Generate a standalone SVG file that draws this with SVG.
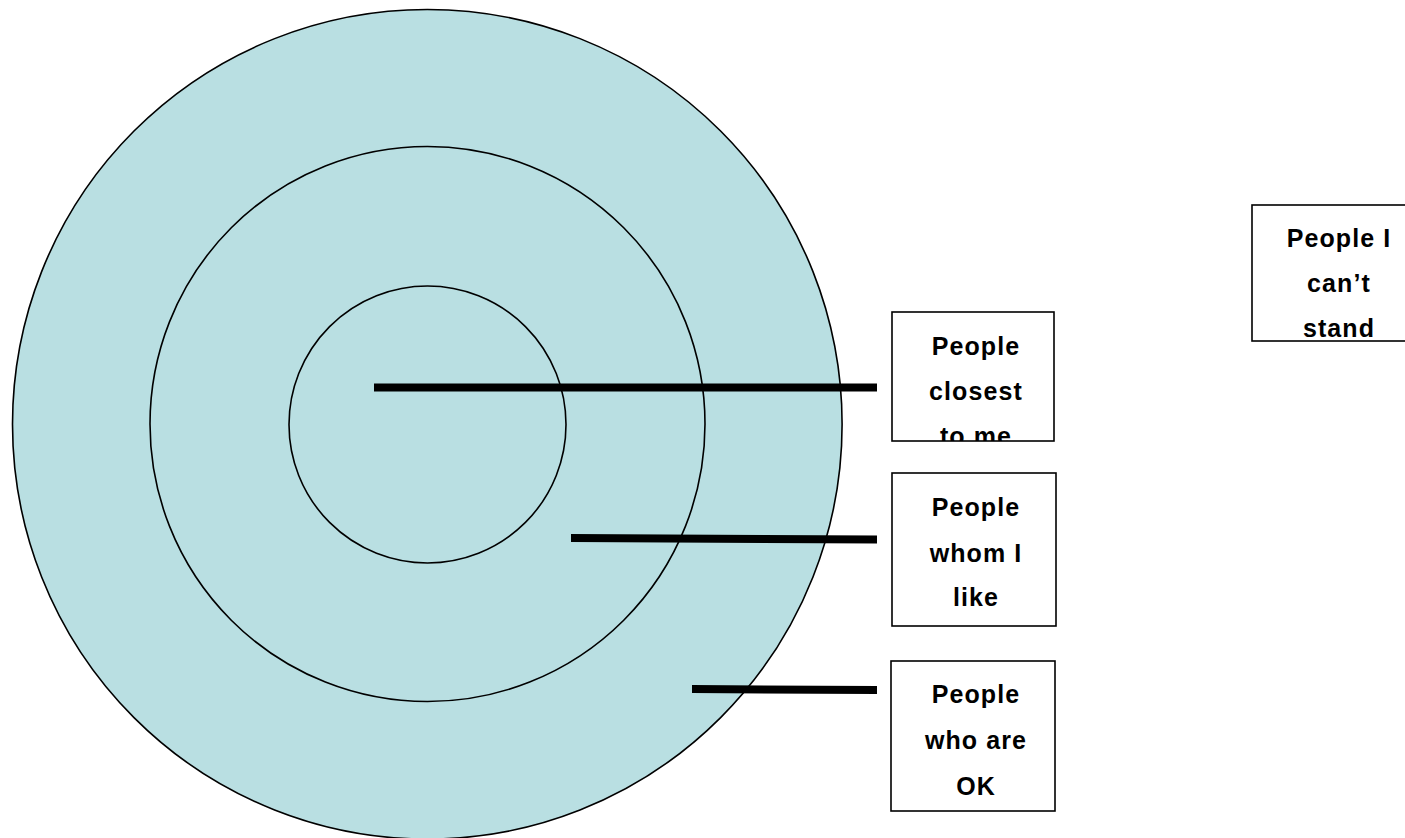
<svg xmlns="http://www.w3.org/2000/svg" width="1405" height="838" viewBox="0 0 1405 838">
<style>
.ring{fill:#B9DFE2;stroke:#000;stroke-width:1.6}
.ringin{fill:none;stroke:#000;stroke-width:1.6}
.box{fill:#fff;stroke:#000;stroke-width:1.6}
.lbl{font-family:"Liberation Sans",Arial,sans-serif;font-weight:bold;font-size:25px;letter-spacing:1.1px;text-anchor:middle;fill:#000}
.bar{stroke:#000;stroke-width:8;fill:none}
</style>
<defs>
<clipPath id="c1"><rect x="892" y="312" width="162" height="129"/></clipPath>
</defs>
<g id="outer"><circle class="ring" cx="427.3" cy="424.3" r="414.8"/></g>
<g id="middle"><circle class="ringin" cx="427.5" cy="424" r="277.5"/></g>
<g id="inner"><circle class="ringin" cx="427.5" cy="424.5" r="138.5"/></g>
<g id="connectors">
<line class="bar" x1="374" y1="387.5" x2="877" y2="387.5"/>
<line class="bar" x1="571" y1="538" x2="877" y2="539.5"/>
<line class="bar" x1="692" y1="689" x2="877" y2="690"/>
</g>
<g id="closest">
<rect class="box" x="892" y="312" width="162" height="129"/>
<g clip-path="url(#c1)">
<text class="lbl" x="976" y="355">People</text>
<text class="lbl" x="976" y="400">closest</text>
<text class="lbl" x="976" y="445">to me</text>
</g>
</g>
<g id="like">
<rect class="box" x="892" y="473" width="164" height="153"/>
<text class="lbl" x="976" y="516">People</text>
<text class="lbl" x="976" y="562">whom I</text>
<text class="lbl" x="976" y="606">like</text>
</g>
<g id="ok">
<rect class="box" x="891" y="661" width="164" height="150"/>
<text class="lbl" x="976" y="703">People</text>
<text class="lbl" x="976" y="749">who are</text>
<text class="lbl" x="976" y="795">OK</text>
</g>
<g id="cantstand">
<rect class="box" x="1252" y="205" width="163" height="136"/>
<text class="lbl" x="1339" y="247">People I</text>
<text class="lbl" x="1339" y="292">can’t</text>
<text class="lbl" x="1339" y="337">stand</text>
</g>
</svg>
